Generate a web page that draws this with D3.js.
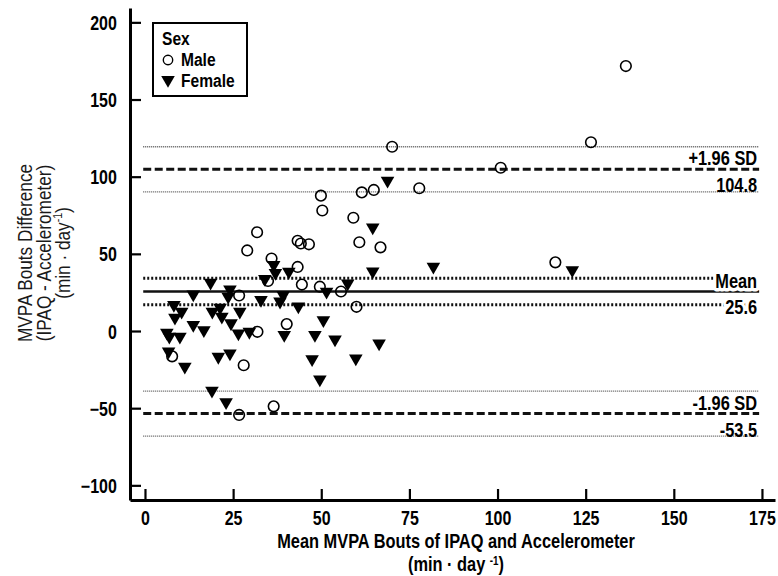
<!DOCTYPE html>
<html>
<head>
<meta charset="utf-8">
<script src="https://cdn.jsdelivr.net/npm/d3@7"></script>
<style>
  body { margin: 0; background: #fff; }
  svg { display: block; font-family: 'Liberation Sans', Arial, sans-serif; }
</style>
</head>
<body>
<div id="chart"></div>
<script>
// mean of the two methods (x) and difference IPAQ - accelerometer (y)
const maleMean = [136.4, 126.5, 70.1, 100.9, 77.8, 64.9, 61.5, 49.9, 50.3, 59.1, 31.8, 29.0, 43.3, 44.2, 46.5, 60.8,
  66.8, 35.9, 43.3, 34.9, 44.5, 49.6, 55.6, 26.7, 116.4, 60.0, 40.2, 31.9, 7.7, 28.0, 36.5, 26.7];
const maleDiff = [171.7, 122.3, 119.4, 105.8, 92.5, 91.4, 89.8, 87.7, 78.1, 73.4, 64.0, 52.2, 58.5, 56.7, 56.2, 57.5,
  54.2, 47.0, 41.5, 32.4, 30.1, 28.7, 25.6, 23.0, 44.5, 15.7, 4.5, -0.5, -16.4, -22.2, -48.8, -54.4];

const femaleMean = [68.8, 64.6, 64.6, 81.8, 121.2, 36.5, 37.0, 40.8, 34.0, 18.6, 24.1, 13.7, 23.6, 32.9, 39.2, 38.3,
  43.5, 51.5, 57.5, 8.2, 10.4, 8.5, 19.1, 21.3, 21.8, 24.4, 26.9, 13.7, 16.7, 6.2, 6.9, 9.9,
  26.5, 29.6, 39.5, 48.2, 50.6, 53.9, 66.4, 6.7, 11.3, 20.8, 24.1, 47.4, 59.8, 49.6, 19.0, 23.0];
const femaleDiff = [97.4, 67.2, 38.6, 41.7, 39.5, 42.8, 37.6, 38.4, 33.7, 31.3, 26.9, 23.7, 22.2, 20.1, 23.3, 19.1,
  16.0, 25.5, 30.9, 16.9, 12.5, 8.7, 12.5, 15.2, 9.3, 5.0, 12.5, 3.9, 0.6, -1.0, -3.7, -3.6,
  -1.5, -0.5, -2.6, -2.6, 7.1, -5.4, -8.0, -13.2, -23.1, -16.7, -14.5, -18.3, -17.7, -31.4, -38.6, -46.1];

// bias, limits of agreement and their 95% CIs
const limitValues = [104.8, 25.6, -53.5];
const limitCILow = [90.2, 17.0, -68.1];
const limitCIHigh = [119.4, 34.2, -38.9];
const limitTopLabels = ['+1.96 SD', 'Mean', '-1.96 SD'];
const limitBottomLabels = ['104.8', '25.6', '-53.5'];

const xTicks = [0, 25, 50, 75, 100, 125, 150, 175];
const yTicks = [-100, -50, 0, 50, 100, 150, 200];

const W = 778, H = 576;
const NARROW = 0.82; // no Arial Narrow installed, squeeze Liberation Sans instead
const svg = d3.select('#chart').append('svg').attr('width', W).attr('height', H);

const x = d3.scaleLinear().domain([-4.25, 178.7]).range([130, 775]);
const y = d3.scaleLinear().domain([-109.5, 209.3]).range([500, 8]);

function label(parent, px, py, str, size, opts = {}) {
  const g = parent.append('g').attr('transform', `translate(${px},${py}) scale(${NARROW},1)`);
  const t = g.append('text')
    .attr('text-anchor', opts.anchor || 'start')
    .attr('font-size', size)
    .attr('font-weight', opts.weight || 'bold')
    .attr('fill', opts.fill || '#000');
  if (str !== null) t.text(str);
  return t;
}

// reference lines
const lineX0 = x(-0.5), lineX1 = x(174.2);
const refs = svg.append('g');
limitValues.forEach((v, i) => {
  const isMean = i === 1;
  [limitCILow[i], limitCIHigh[i]].forEach(c => {
    refs.append('line')
      .attr('x1', lineX0).attr('x2', lineX1)
      .attr('y1', y(c)).attr('y2', y(c))
      .attr('stroke', isMean ? '#111' : '#555')
      .attr('stroke-width', isMean ? 3 : 1.3)
      .attr('stroke-dasharray', isMean ? '2,2' : '1,1');
  });
  refs.append('line')
    .attr('x1', lineX0).attr('x2', lineX1)
    .attr('y1', y(v)).attr('y2', y(v))
    .attr('stroke', '#111')
    .attr('stroke-width', isMean ? 2.6 : 3)
    .attr('stroke-dasharray', isMean ? null : '8,3.5');
});

// labels at the right end
limitValues.forEach((v, i) => {
  const isMean = i === 1;
  const top = label(refs, lineX1 - 2, y(v) - 4, limitTopLabels[i], 20, { anchor: 'end' });
  const bottom = label(refs, lineX1 - 2, y(v) + (isMean ? 22 : 23), limitBottomLabels[i], 20, { anchor: 'end' });
  if (isMean) {
    [top, bottom].forEach(t => t.attr('stroke', '#fff').attr('stroke-width', 7)
      .attr('paint-order', 'stroke').attr('stroke-linejoin', 'round'));
  }
});

// points
const tri = d3.symbol().type(d3.symbolTriangle).size(80);
svg.append('g').selectAll('path')
  .data(femaleMean.map((m, i) => [m, femaleDiff[i]]))
  .join('path')
  .attr('d', tri)
  .attr('transform', d => `translate(${x(d[0])},${y(d[1])}) rotate(180)`)
  .attr('fill', '#000');

svg.append('g').selectAll('circle')
  .data(maleMean.map((m, i) => [m, maleDiff[i]]))
  .join('circle')
  .attr('cx', d => x(d[0]))
  .attr('cy', d => y(d[1]))
  .attr('r', 5.3)
  .attr('fill', 'none')
  .attr('stroke', '#000')
  .attr('stroke-width', 1.6);

// axes, ticks pointing inward
const xAxis = svg.append('g')
  .attr('transform', `translate(0,${y(-109.5)})`)
  .call(d3.axisBottom(x).tickValues(xTicks).tickSizeInner(-11).tickSizeOuter(0).tickPadding(11));
const yAxis = svg.append('g')
  .attr('transform', `translate(${x(-4.25)},0)`)
  .call(d3.axisLeft(y).tickValues(yTicks).tickSizeInner(-11).tickSizeOuter(0).tickPadding(16));

[xAxis, yAxis].forEach(a => {
  a.select('.domain').attr('stroke', '#000').attr('stroke-width', 3);
  a.selectAll('.tick line').attr('stroke', '#000').attr('stroke-width', 2.2);
  a.selectAll('.tick text').attr('font-size', 19.5).attr('font-weight', 'bold')
    .attr('font-family', null).attr('fill', '#000')
    .attr('transform', `scale(${NARROW},1)`);
});
yAxis.selectAll('.tick text').attr('dy', '0.36em');

// axis titles
label(svg, 456, 548, 'Mean MVPA Bouts of IPAQ and Accelerometer', 20, { anchor: 'middle' });
const xt2 = label(svg, 456, 571, null, 20, { anchor: 'middle' });
xt2.append('tspan').text('(min \u00b7 day ');
xt2.append('tspan').attr('font-size', 12).attr('dy', -6).text('-1');
xt2.append('tspan').attr('dy', 6).text(')');

const yTitle = svg.append('g').attr('transform', 'translate(0,253) rotate(-90)');
label(yTitle, 0, 32, 'MVPA Bouts Difference', 21, { anchor: 'middle', weight: 'normal', fill: '#1a1a1a' });
label(yTitle, 0, 51, '(IPAQ - Accelerometer)', 21, { anchor: 'middle', weight: 'normal', fill: '#1a1a1a' });
const y3 = label(yTitle, 0, 70, null, 21, { anchor: 'middle', weight: 'normal', fill: '#1a1a1a' });
y3.append('tspan').text('(min \u00b7 day');
y3.append('tspan').attr('font-size', 13).attr('dy', -8).text('-1');
y3.append('tspan').attr('dy', 8).text(')');

// legend
const lg = svg.append('g').attr('transform', 'translate(153,23)');
lg.append('rect').attr('width', 94).attr('height', 73)
  .attr('fill', '#fff').attr('stroke', '#000').attr('stroke-width', 2);
label(lg, 9, 22, 'Sex', 19);
lg.append('circle').attr('cx', 15).attr('cy', 37).attr('r', 4.7)
  .attr('fill', 'none').attr('stroke', '#000').attr('stroke-width', 1.4);
label(lg, 28, 43, 'Male', 19);
lg.append('path').attr('d', tri)
  .attr('transform', 'translate(15,57) rotate(180)').attr('fill', '#000');
label(lg, 28, 63.5, 'Female', 19);
</script>
</body>
</html>
